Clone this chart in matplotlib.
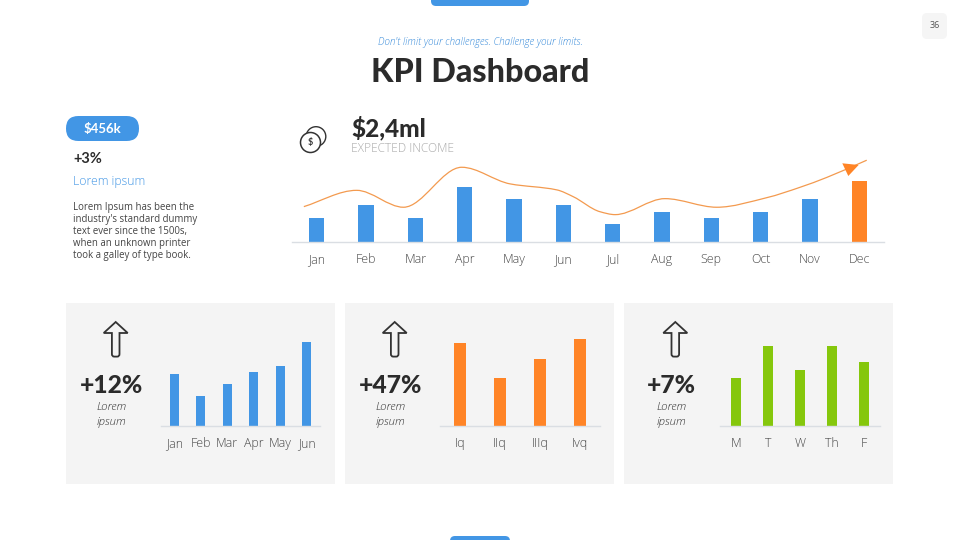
import matplotlib
matplotlib.use("Agg")
import matplotlib.pyplot as plt
from matplotlib.patches import Rectangle, FancyBboxPatch, Polygon, Circle, PathPatch
from matplotlib.path import Path

# ---- data ----
months = ["Jan", "Feb", "Mar", "Apr", "May", "Jun", "Jul", "Aug", "Sep", "Oct", "Nov", "Dec"]
income = [4, 6, 4, 9, 7, 6, 3, 5, 4, 5, 7, 10]
trend_pos = [-0.26, 0.81, 1.76, 2.94, 3.92, 4.87, 5.20, 5.74, 6.05, 7.06, 8.11, 9.12, 9.80, 10.34, 11.15]
trend_val = [5.80, 8.45, 5.70, 12.20, 9.50, 8.52, 7.42, 4.98, 4.50, 7.10, 5.70, 7.25, 8.95, 10.55, 13.35]

half_labels = ["Jan", "Feb", "Mar", "Apr", "May", "Jun"]
half_values = [8.7, 5, 7, 9, 10, 14]
quarter_labels = ["Iq", "IIq", "IIIq", "Ivq"]
quarter_values = [13.9, 8, 11.2, 14.6]
day_labels = ["M", "T", "W", "Th", "F"]
day_values = [6, 10, 7, 10, 8]

BLUE = "#4296E5"
ORANGE = "#FF8426"
GREEN = "#85C70C"
DARK = "#2B2B2B"
TICK = "#484848"
AXIS = "#DADEE3"
PANEL = "#F4F4F4"

plt.rcParams["font.family"] = ["Lato", "DejaVu Sans"]

fig = plt.figure(figsize=(9.6, 5.4), dpi=100, facecolor="white")

# page-level layer, measured in pixels
bg = fig.add_axes([0, 0, 1, 1])
bg.set_xlim(0, 960)
bg.set_ylim(540, 0)
bg.axis("off")


def rounded(x0, y0, x1, y1, r, color):
    bg.add_patch(FancyBboxPatch((x0 + r, y0 + r), x1 - x0 - 2 * r, y1 - y0 - 2 * r,
                                boxstyle=f"round,pad={r},rounding_size={r}",
                                fc=color, ec="none", mutation_aspect=1))


# tabs, page number
rounded(431, -10, 529, 6, 5, BLUE)
rounded(450, 536, 510, 552, 5, BLUE)
rounded(922, 13, 947, 39, 5, "#F5F5F5")
bg.text(934.5, 26, "36", fontsize=6.5, color="#555555", ha="center", va="center", family="Open Sans")

# heading
bg.text(480, 42.5, "Don't limit your challenges. Challenge your limits.", fontsize=7.1, style="italic",
        color="#3A8CDA", ha="center", va="center", family="Open Sans", weight="light")
bg.text(480, 72.5, "KPI Dashboard", fontsize=23.2, weight="black", color=DARK, ha="center", va="center")

# left column
rounded(66, 116, 139, 141, 12.4, BLUE)
bg.text(102.5, 128.5, "$456k", fontsize=9.5, weight="bold", color="white", ha="center", va="center")
bg.text(73, 159, "+3%", fontsize=10.5, weight="bold", color=DARK, ha="left", va="center")
bg.text(73, 181, "Lorem ipsum", fontsize=8.7, color=BLUE, ha="left", va="center", family="Open Sans", weight="light")
para = ["Lorem Ipsum has been the", "industry's standard dummy", "text ever since the 1500s,",
        "when an unknown printer", "took a galley of type book."]
for i, line in enumerate(para):
    bg.text(73, 207.5 + 12 * i, line, fontsize=6.9, color="#444444", ha="left", va="center", family="Open Sans")

# coins icon
bg.add_patch(Circle((316, 136.5), 9.8, fc="none", ec="#333333", lw=1.0))
bg.add_patch(Circle((310.5, 142.5), 10, fc="white", ec="#333333", lw=1.1))
bg.text(310.5, 142.5, "$", fontsize=6.5, color="#333333", ha="center", va="center", weight="bold")

bg.text(351, 128.5, "$2,4ml", fontsize=17.5, weight="black", color=DARK, ha="left", va="center")
bg.text(351, 149, "EXPECTED INCOME", fontsize=8.6, color="#ABABAB", ha="left", va="center",
        family="Open Sans", weight="light")

# panels
for x0, x1 in [(66, 335), (345, 614), (624, 893)]:
    bg.add_patch(Rectangle((x0, 303), x1 - x0, 181, fc=PANEL, ec="none"))


def up_arrow(cx):
    verts = [(cx, 322), (cx + 12, 333), (cx + 3.8, 333), (cx + 3.8, 354), (cx + 3.8, 356.6), (cx + 1.5, 356.6),
             (cx - 1.5, 356.6), (cx - 3.8, 356.6), (cx - 3.8, 354), (cx - 3.8, 333), (cx - 12, 333), (cx, 322)]
    codes = [Path.MOVETO, Path.LINETO, Path.LINETO, Path.LINETO, Path.CURVE3, Path.CURVE3,
             Path.LINETO, Path.CURVE3, Path.CURVE3, Path.LINETO, Path.LINETO, Path.CLOSEPOLY]
    bg.add_patch(PathPatch(Path(verts, codes), fc="none", ec="#333333", lw=1.3, joinstyle="miter"))


for cx, big in [(115.7, "+12%"), (394.7, "+47%"), (675.3, "+7%")]:
    up_arrow(cx)
    tx = cx - 4
    bg.text(tx, 385.5, big, fontsize=17.7, weight="black", color=DARK, ha="center", va="center")
    bg.text(tx, 407, "Lorem", fontsize=8.2, style="italic", color="#333333", ha="center", va="center",
            family="Open Sans", weight="light")
    bg.text(tx, 422, "ipsum", fontsize=8.2, style="italic", color="#333333", ha="center", va="center",
            family="Open Sans", weight="light")


def bar_axes(left, right, base, height, px_per_unit, labels, values, colors, width, pad, lsize):
    ax = fig.add_axes([left / 960, 1 - base / 540, (right - left) / 960, height / 540])
    ax.patch.set_alpha(0)
    pos = list(range(len(labels)))
    ax.bar(pos, values, width=width, color=colors)
    ax.set_xlim(-0.5, len(labels) - 0.5)
    ax.set_ylim(0, height / px_per_unit)
    ax.set_xticks(pos)
    ax.set_xticklabels(labels, fontsize=lsize, color=TICK, family="Open Sans", weight="light")
    ax.tick_params(axis="x", length=0, pad=pad)
    ax.set_yticks([])
    for s in ("top", "left", "right"):
        ax.spines[s].set_visible(False)
    ax.spines["bottom"].set_color(AXIS)
    ax.spines["bottom"].set_linewidth(1.0)
    return ax


main = bar_axes(292, 884, 242.3, 95, 6.15, months, income, [BLUE] * 11 + [ORANGE], 0.315, 8, 8.9)

# smooth trend curve through the read values: flat tangents at turning points,
# harmonic-mean tangents elsewhere, drawn as cubic Beziers
n = len(trend_pos)
dx = [trend_pos[i + 1] - trend_pos[i] for i in range(n - 1)]
sl = [(trend_val[i + 1] - trend_val[i]) / dx[i] for i in range(n - 1)]
tan = [sl[0]] + [0.0] * (n - 2) + [sl[-1]]
for i in range(1, n - 1):
    if sl[i - 1] * sl[i] > 0:
        w1 = 2 * dx[i] + dx[i - 1]
        w2 = dx[i] + 2 * dx[i - 1]
        tan[i] = (w1 + w2) / (w1 / sl[i - 1] + w2 / sl[i])
verts, codes = [(trend_pos[0], trend_val[0])], [Path.MOVETO]
for i in range(n - 1):
    verts += [(trend_pos[i] + dx[i] / 3, trend_val[i] + tan[i] * dx[i] / 3),
              (trend_pos[i + 1] - dx[i] / 3, trend_val[i + 1] - tan[i + 1] * dx[i] / 3),
              (trend_pos[i + 1], trend_val[i + 1])]
    codes += [Path.CURVE4] * 3
main.add_patch(PathPatch(Path(verts, codes), fc="none", ec="#F39A4F", lw=0.9, clip_on=False))

bar_axes(161, 320, 426.3, 100, 6, half_labels, half_values, BLUE, 0.33, 7.5, 8.9)
bar_axes(440, 600, 426.3, 100, 6, quarter_labels, quarter_values, ORANGE, 0.31, 7.5, 8.9)
bar_axes(720, 880, 426.3, 100, 8, day_labels, day_values, GREEN, 0.31, 7.5, 8.9)

# arrow head on top of everything, in page pixels
top = fig.add_axes([0, 0, 1, 1])
top.set_xlim(0, 960)
top.set_ylim(540, 0)
top.axis("off")
top.patch.set_alpha(0)
top.add_patch(Polygon([(842.3, 163.3), (858.6, 165.0), (848.3, 176)], closed=True, fc=ORANGE, ec="none"))

fig.savefig("out.png", dpi=100)
